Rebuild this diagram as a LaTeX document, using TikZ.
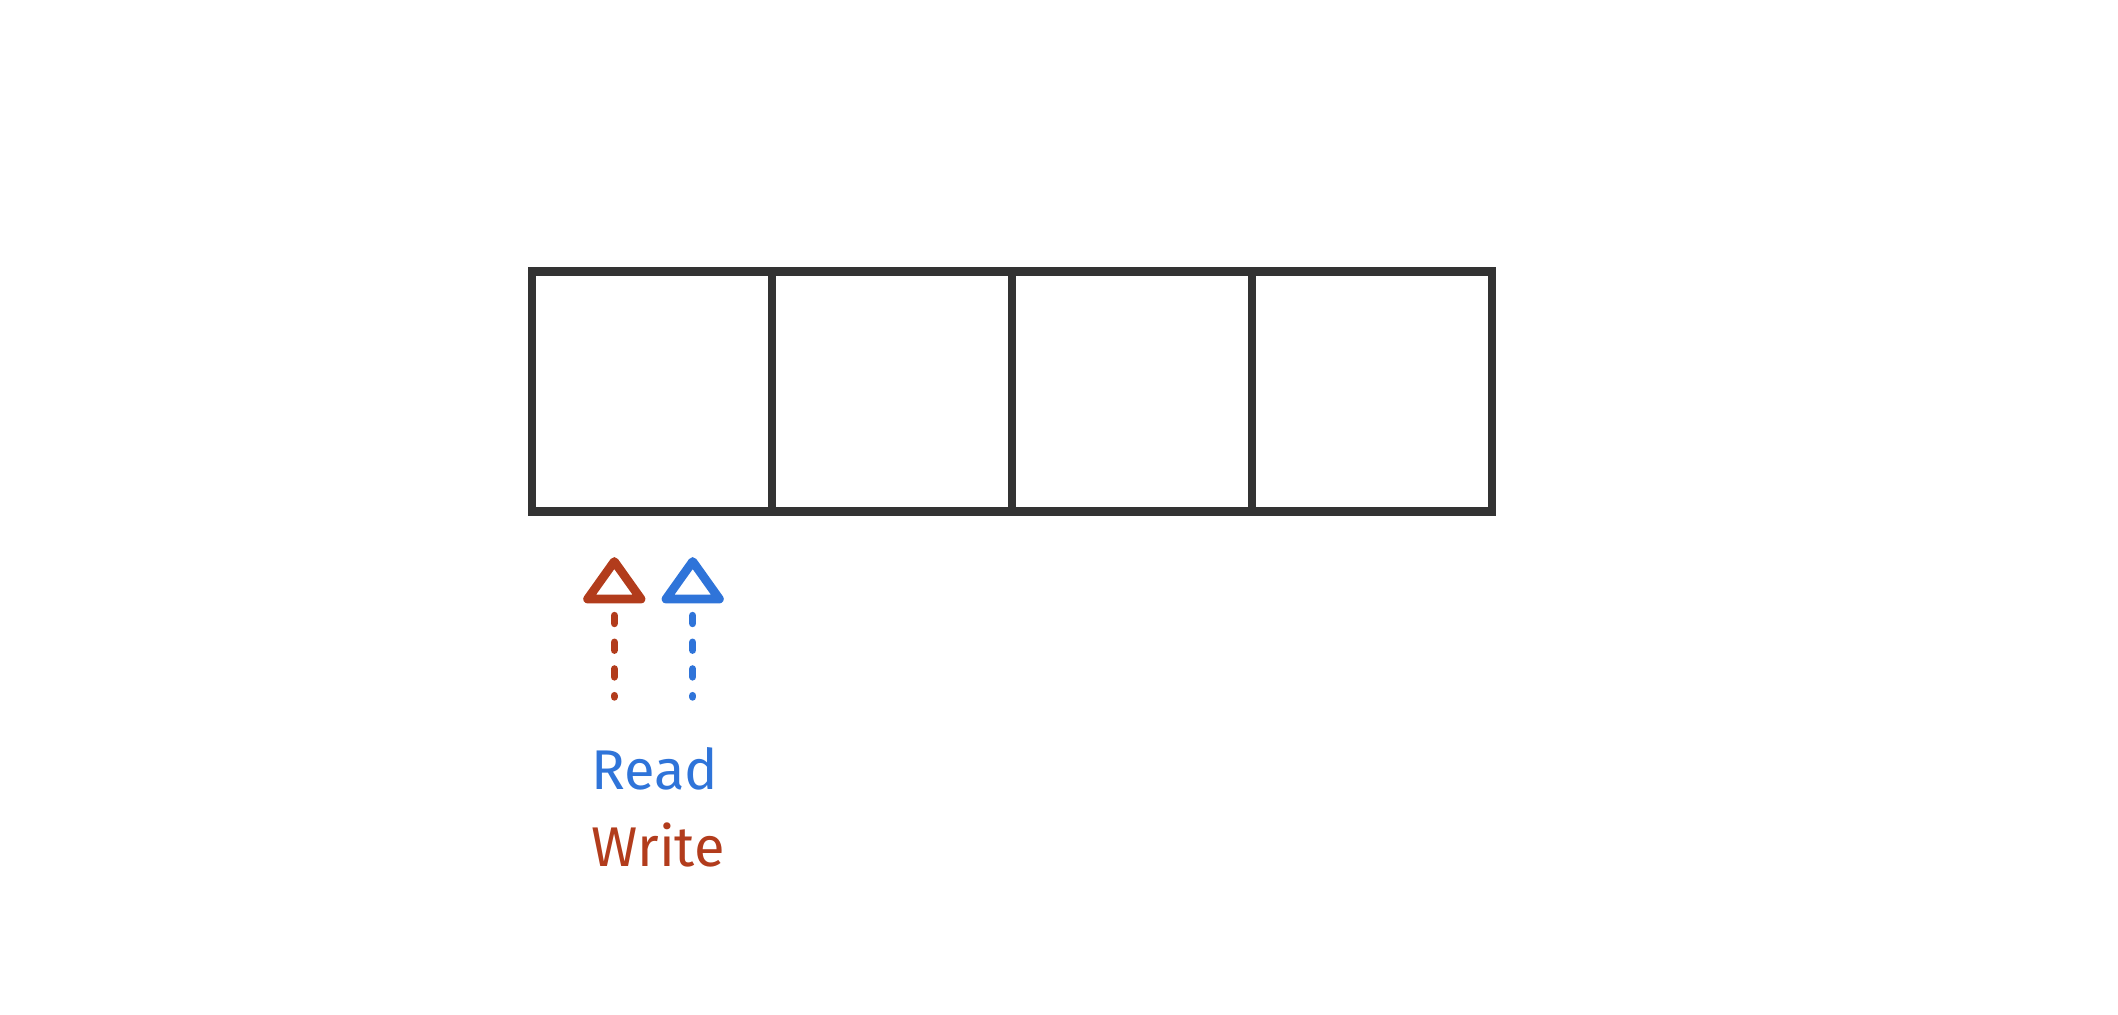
\documentclass[tikz,border=0pt]{standalone}
\usepackage{fontspec}
\setmainfont{Fira Sans}
\definecolor{wred}{HTML}{B23C1C}
\definecolor{rblue}{HTML}{2F74D9}
\definecolor{boxgray}{HTML}{333333}
\tikzset{
  cell/.style={draw=boxgray, line width=4.25pt, minimum width=120pt, minimum height=120pt, inner sep=0pt, outer sep=0pt},
  tri/.style={line width=4.4pt, line join=round, line cap=round},
  dashline/.style={line width=3.7pt, line cap=round, dash pattern=on 4pt off 9.35pt},
  lbl/.style={font=\fontsize{28}{33}\selectfont, anchor=base, inner sep=0pt}
}
\begin{document}
\begin{tikzpicture}[x=0.5pt,y=-0.5pt]
\useasboundingbox (0,0) rectangle (2118,1014);
% cells
\node[cell] (c1) at (652,391.5) {};
\node[cell] (c2) at (892,391.5) {};
\node[cell] (c3) at (1132,391.5) {};
\node[cell] (c4) at (1372,391.5) {};
% write pointer (red)
\draw[tri, draw=wred] (614.3,561.5) -- (641,599) -- (587.6,599) -- cycle;
\coordinate (wtop) at (614.3,615.5);
\coordinate (wbot) at (614.3,697);
\draw[dashline, draw=wred] (wtop) -- (wbot);
% read pointer (blue)
\draw[tri, draw=rblue] (692.7,561.5) -- (719.4,599) -- (666,599) -- cycle;
\coordinate (rtop) at (692.7,615.5);
\coordinate (rbot) at (692.7,697);
\draw[dashline, draw=rblue] (rtop) -- (rbot);
% labels
\node[lbl, text=rblue] (read) at (654.7,789.3) {Read};
\node[lbl, text=wred] (write) at (658,866.7) {Write};
\end{tikzpicture}
\end{document}
